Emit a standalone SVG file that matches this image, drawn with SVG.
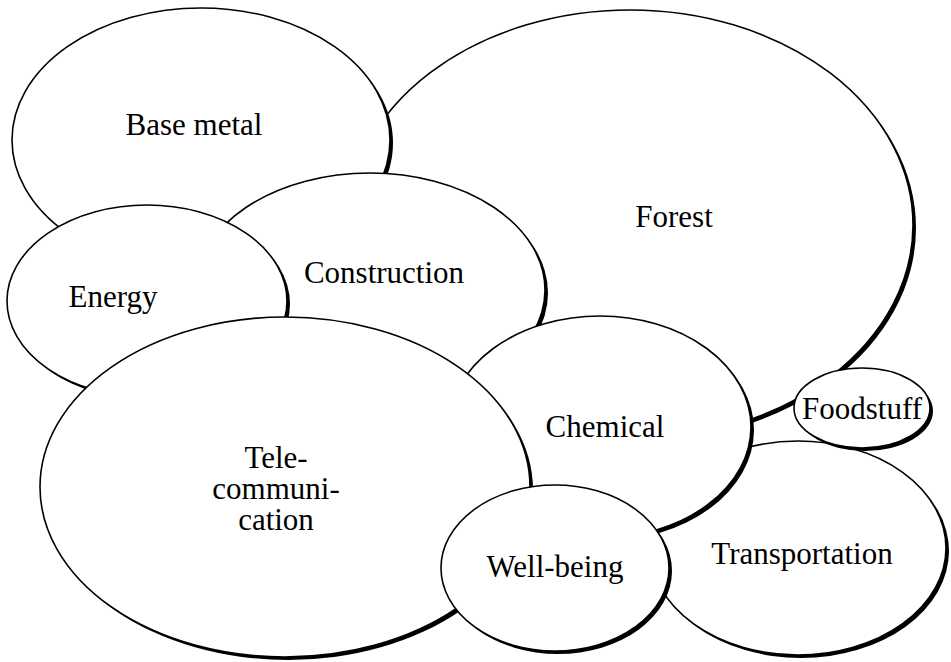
<svg xmlns="http://www.w3.org/2000/svg" width="951" height="662" viewBox="0 0 951 662">
  <style>
    .shadow { fill: #000; }
    .bubble { fill: #fff; stroke: #000; stroke-width: 1.6; }
    text { font-size: 31px; fill: #000; text-anchor: middle; }
  </style>
  <rect width="951" height="662" fill="#fff"/>
  <!-- each sector: offset black shadow, then the white bubble, then its label -->
  <g font-family="Liberation Serif, Times New Roman, Tinos, serif">
  <g id="forest">
    <ellipse class="shadow" cx="633" cy="228" rx="283" ry="215"/>
    <ellipse class="bubble" cx="630" cy="225" rx="283" ry="215"/>
    <text x="674" y="227">Forest</text>
  </g>
  <g id="base-metal">
    <ellipse class="shadow" cx="204" cy="143" rx="189" ry="132"/>
    <ellipse class="bubble" cx="201" cy="140" rx="189" ry="132"/>
    <text x="194" y="135">Base metal</text>
  </g>
  <g id="construction">
    <ellipse class="shadow" cx="373" cy="293" rx="175" ry="117"/>
    <ellipse class="bubble" cx="370" cy="290" rx="175" ry="117"/>
    <text x="384" y="283">Construction</text>
  </g>
  <g id="energy">
    <ellipse class="shadow" cx="150" cy="304" rx="140" ry="96"/>
    <ellipse class="bubble" cx="147" cy="301" rx="140" ry="96"/>
    <text x="113" y="307">Energy</text>
  </g>
  <g id="transportation">
    <ellipse class="shadow" cx="801" cy="551" rx="148" ry="107"/>
    <ellipse class="bubble" cx="798" cy="548" rx="148" ry="107"/>
    <text x="802" y="564">Transportation</text>
  </g>
  <g id="chemical">
    <ellipse class="shadow" cx="603" cy="430" rx="151" ry="111"/>
    <ellipse class="bubble" cx="600" cy="427" rx="151" ry="111"/>
    <text x="605" y="437">Chemical</text>
  </g>
  <g id="telecommunication">
    <ellipse class="shadow" cx="288" cy="490" rx="245" ry="170"/>
    <ellipse class="bubble" cx="285" cy="487" rx="245" ry="170"/>
    <text x="276" y="468">Tele-</text>
    <text x="276" y="499">communi-</text>
    <text x="276" y="530">cation</text>
  </g>
  <g id="foodstuff">
    <ellipse class="shadow" cx="865" cy="411" rx="68" ry="40"/>
    <ellipse class="bubble" cx="862" cy="408" rx="68" ry="40"/>
    <text x="862" y="419">Foodstuff</text>
  </g>
  <g id="well-being">
    <ellipse class="shadow" cx="558" cy="571" rx="114" ry="83"/>
    <ellipse class="bubble" cx="555" cy="568" rx="114" ry="83"/>
    <text x="555" y="577">Well-being</text>
  </g>
  </g>
  <g id="connectors"/>
</svg>
